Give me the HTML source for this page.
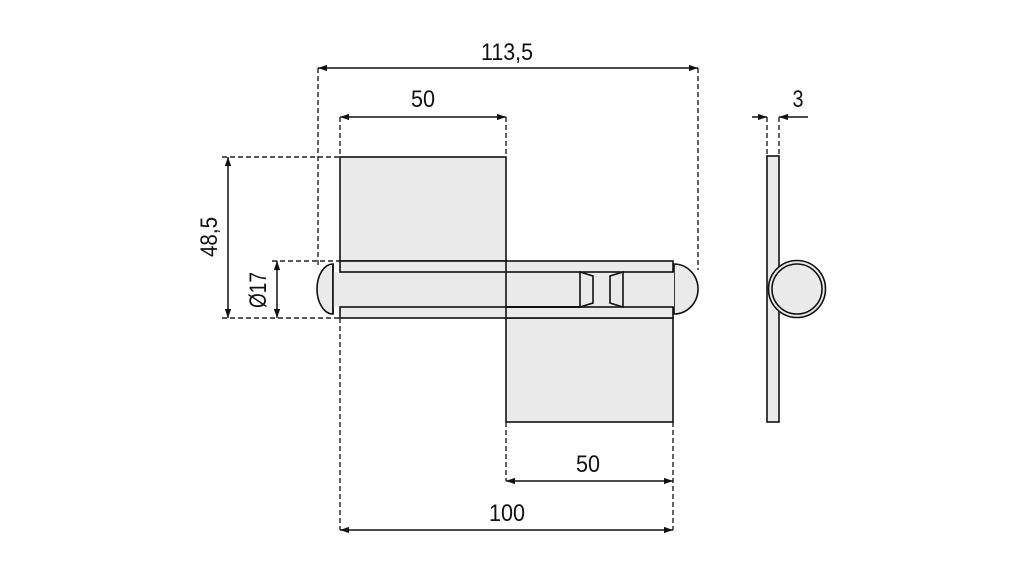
<!DOCTYPE html>
<html><head><meta charset="utf-8"><style>
html,body{margin:0;padding:0;background:#fff;}
svg{display:block}
text{font-family:"Liberation Sans",sans-serif;font-size:24px;fill:#111;}
</style></head><body>
<svg width="1021" height="568" viewBox="0 0 1021 568" xmlns="http://www.w3.org/2000/svg">
<defs>
<marker id="a" viewBox="0 0 10 10" refX="10" refY="5" markerWidth="9" markerHeight="9" markerUnits="userSpaceOnUse" orient="auto-start-reverse"><path d="M0,1.5 L10,5 L0,8.5 Z" fill="#111"/></marker>
</defs>
<g fill="none" stroke="#222" stroke-width="1.4" stroke-dasharray="5,3">
<line x1="318" y1="68" x2="318" y2="268"/>
<line x1="698" y1="68" x2="698" y2="270"/>
<line x1="340" y1="117" x2="340" y2="157"/>
<line x1="506" y1="117" x2="506" y2="157"/>
<line x1="222" y1="157" x2="340" y2="157"/>
<line x1="272" y1="261" x2="340" y2="261"/>
<line x1="222" y1="318" x2="340" y2="318"/>
<line x1="340" y1="318" x2="340" y2="530"/>
<line x1="506" y1="422" x2="506" y2="481"/>
<line x1="673" y1="422" x2="673" y2="530"/>
<line x1="767" y1="117" x2="767" y2="156"/>
<line x1="779" y1="117" x2="779" y2="156"/>
</g>
<g stroke="#111" stroke-width="1.5" fill="none">
<line x1="318" y1="68" x2="698" y2="68" marker-start="url(#a)" marker-end="url(#a)"/>
<line x1="340" y1="117" x2="506" y2="117" marker-start="url(#a)" marker-end="url(#a)"/>
<line x1="228" y1="157" x2="228" y2="318" marker-start="url(#a)" marker-end="url(#a)"/>
<line x1="277" y1="261" x2="277" y2="318" marker-start="url(#a)" marker-end="url(#a)"/>
<line x1="506" y1="481" x2="673" y2="481" marker-start="url(#a)" marker-end="url(#a)"/>
<line x1="340" y1="530" x2="673" y2="530" marker-start="url(#a)" marker-end="url(#a)"/>
<line x1="752" y1="117" x2="767" y2="117" marker-end="url(#a)"/>
<line x1="808" y1="117" x2="779" y2="117" marker-end="url(#a)"/>
</g>
<g fill="#eaeaea" stroke="#111" stroke-width="1.6">
<rect x="340" y="157" width="166" height="104"/>
<rect x="506" y="318" width="167" height="104"/>
<path d="M333,264 A16,25 0 0 0 333,314 Z"/>
<path d="M674,264 A24,25 0 0 1 674,314 Z"/>
<rect x="333" y="272" width="341" height="35" stroke="none"/>
<line x1="333" y1="264" x2="333" y2="314"/>
<rect x="340" y="261" width="333" height="11"/>
<rect x="340" y="307" width="333" height="11"/>
<line x1="506" y1="261" x2="506" y2="318"/>
<line x1="506" y1="307" x2="580" y2="307" stroke-width="2"/>
<path d="M580,272 L593,276 L593,303 L580,307 Z"/>
<path d="M623,272 L610,276 L610,303 L623,307 Z"/>
<rect x="767" y="156" width="12" height="266"/>
<circle cx="797" cy="289" r="28.5"/>
<circle cx="797" cy="289" r="25"/>
</g>
<text x="507" y="60" text-anchor="middle" textLength="52" lengthAdjust="spacingAndGlyphs">113,5</text>
<text x="423" y="107" text-anchor="middle" textLength="24" lengthAdjust="spacingAndGlyphs">50</text>
<text x="588" y="472" text-anchor="middle" textLength="24" lengthAdjust="spacingAndGlyphs">50</text>
<text x="507" y="521" text-anchor="middle" textLength="36" lengthAdjust="spacingAndGlyphs">100</text>
<text x="798" y="107" text-anchor="middle" textLength="11" lengthAdjust="spacingAndGlyphs">3</text>
<text transform="translate(217,237) rotate(-90)" text-anchor="middle" textLength="40" lengthAdjust="spacingAndGlyphs">48,5</text>
<text transform="translate(266,290) rotate(-90)" text-anchor="middle" textLength="36" lengthAdjust="spacingAndGlyphs">Ø17</text>
</svg>
</body></html>
